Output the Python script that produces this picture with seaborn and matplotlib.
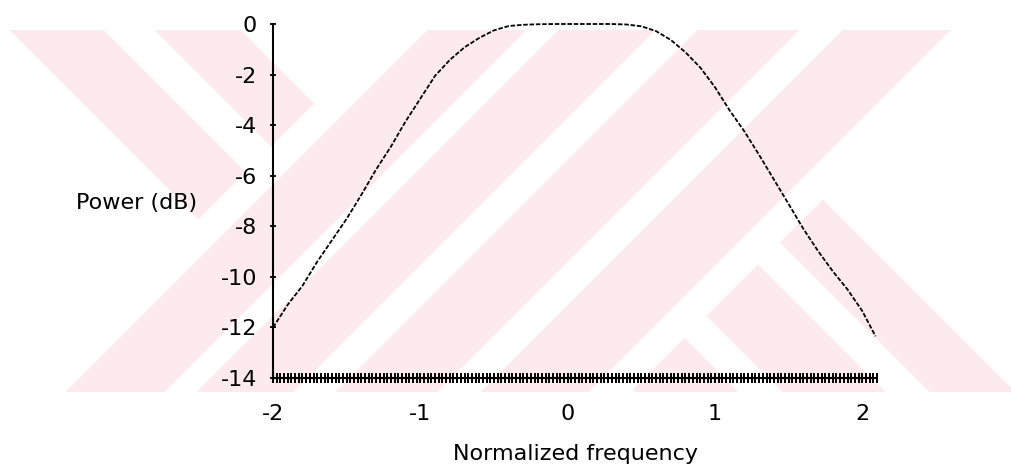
import numpy as np
import pandas as pd
import matplotlib
matplotlib.use("Agg")
import matplotlib.pyplot as plt
import seaborn as sns
from matplotlib.ticker import MultipleLocator

# ---- data ----
freq = [-2.0, -1.9, -1.8, -1.7, -1.6, -1.5, -1.4, -1.3, -1.2, -1.1, -1.0,
        -0.9, -0.8, -0.7, -0.6, -0.5, -0.4, -0.3, -0.2, -0.1, 0.0, 0.1,
        0.2, 0.3, 0.4, 0.5, 0.6, 0.7, 0.8, 0.9, 1.0, 1.1, 1.2, 1.3, 1.4,
        1.5, 1.6, 1.7, 1.8, 1.9, 2.0, 2.09]
power_db = [-12.0, -11.1, -10.35, -9.4, -8.55, -7.7, -6.75, -5.75, -4.85,
            -3.85, -2.95, -2.05, -1.42, -0.92, -0.55, -0.25, -0.08, -0.03,
            -0.01, 0.0, 0.0, 0.0, 0.0, 0.0, -0.02, -0.09, -0.28, -0.63,
            -1.12, -1.72, -2.5, -3.42, -4.25, -5.18, -6.15, -7.12, -8.1,
            -8.98, -9.78, -10.5, -11.35, -12.35]
x_ticks = [-2, -1, 0, 1, 2]
y_ticks = [0, -2, -4, -6, -8, -10, -12, -14]
x_label = "Normalized frequency"
y_label = "Power (dB)"

# background scan watermark (light pink diagonal stripes), in page pixels
wm_color = (253 / 255, 234 / 255, 238 / 255)
wm_box = (10, 1012, 30, 392)                     # x0, x1, y0, y1
wm_left_back = [(-20, 73), (125, 210)]           # "\" stripes, x - y
wm_left_limit = 418                              # x + y below this
wm_mid_fwd = [(458, 556), (589, 685), (728, 829), (873, 980)]  # "/" x + y
wm_right_limit = 1022                            # x + y above this
wm_right_back = [(538, 623), (391, 493), (244, 346)]           # "\" x - y

df = pd.DataFrame({"freq": freq, "power": power_db})

sns.set_theme(style="white")
plt.rcParams["font.family"] = ["DejaVu Sans"]
plt.rcParams["axes.unicode_minus"] = False

W, H = 1012, 467
fig = plt.figure(figsize=(W / 100, H / 100), dpi=100)
fig.patch.set_facecolor("white")

# watermark layer
yy, xx = np.mgrid[0:H, 0:W] + 0.5
u = xx + yy
v = xx - yy
inside = (xx >= wm_box[0]) & (xx <= wm_box[1]) & (yy >= wm_box[2]) & (yy <= wm_box[3])
mask = np.zeros((H, W), dtype=bool)
for lo, hi in wm_left_back:
    mask |= (u < wm_left_limit) & (v >= lo) & (v <= hi)
for lo, hi in wm_mid_fwd:
    mask |= (u >= lo) & (u <= hi)
for lo, hi in wm_right_back:
    mask |= (u > wm_right_limit) & (v >= lo) & (v <= hi)
mask &= inside
img = np.ones((H, W, 3))
img[mask] = wm_color
ax_bg = fig.add_axes([0, 0, 1, 1], zorder=0)
ax_bg.imshow(img, extent=(0, W, H, 0), interpolation="nearest", aspect="auto")
ax_bg.set_axis_off()

ax = fig.add_axes([0.2698, 0.1906, 0.5968, 0.758], zorder=1)
ax.set_facecolor("none")

sns.lineplot(data=df, x="freq", y="power", ax=ax, color="black",
             linewidth=1.3, linestyle=(0, (2.5, 1.0)), clip_on=False)

ax.set_xlim(-2, 2.1)
ax.set_ylim(-14, 0)

for s in ["top", "right"]:
    ax.spines[s].set_visible(False)
for s in ["left", "bottom"]:
    ax.spines[s].set_color("black")
    ax.spines[s].set_linewidth(1.5)

ax.set_xticks(x_ticks)
ax.set_xticklabels([str(v) for v in x_ticks])
ax.set_yticks(y_ticks)
ax.set_yticklabels([str(v) for v in y_ticks])
ax.xaxis.set_minor_locator(MultipleLocator(0.025))

ax.tick_params(axis="y", which="major", direction="inout", length=5,
               width=1.3, color="black", pad=9, labelsize=16,
               labelcolor="black", left=True)
ax.tick_params(axis="x", which="major", direction="inout", length=7.5,
               width=1.5, color="black", pad=15, labelsize=16,
               labelcolor="black", bottom=True)
ax.tick_params(axis="x", which="minor", direction="inout", length=7.5,
               width=1.4, color="black", bottom=True)

ax.set_xlabel(x_label, fontsize=16, color="black")
ax.xaxis.label.set_va("baseline")
ax.xaxis.set_label_coords(0.5, -0.2316)

ax.set_ylabel(y_label, fontsize=16, color="black", rotation=0,
              ha="right", va="baseline")
ax.yaxis.set_label_coords(-0.126, 0.477)

ax.grid(False)
fig.savefig("out.png", dpi=100, facecolor="white")
